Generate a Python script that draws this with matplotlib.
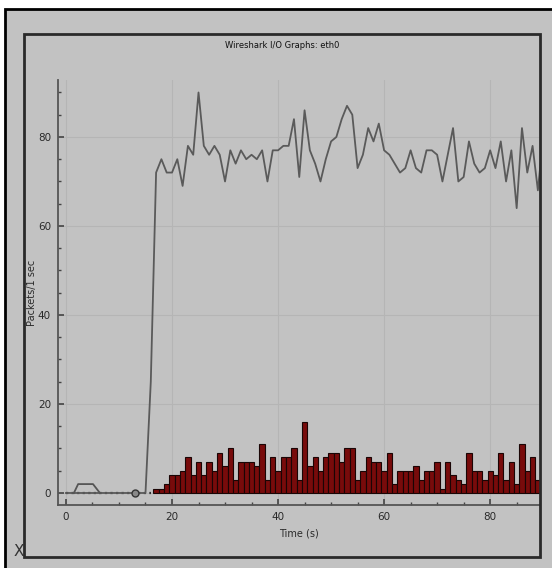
import numpy as np
import matplotlib.pyplot as plt
from matplotlib.patches import Rectangle

# packets per second (line), t = 0..90
line_t = list(range(0, 91))
line_v = [0] * 16 + [25, 72, 75, 72, 72, 75, 69, 78, 76, 90,
                     78, 76, 78, 76, 70, 77, 74, 77, 75, 76,
                     75, 77, 70, 77, 77, 78, 78, 84, 71, 86,
                     77, 74, 70, 75, 79, 80, 84, 87, 85, 73,
                     76, 82, 79, 83, 77, 76, 74, 72, 73, 77,
                     73, 72, 77, 77, 76, 70, 76, 82, 70, 71,
                     79, 74, 72, 73, 77, 73, 79, 70, 77, 64,
                     82, 72, 78, 68, 80]

# second graph (bars), t = 17..89
bar_t = list(range(17, 90))
bar_v = [1, 1, 2, 4, 4, 5, 8, 4, 7, 4, 7, 5, 9, 6, 10, 3, 7, 7, 7, 6,
         11, 3, 8, 5, 8, 8, 10, 3, 16, 6, 8, 5, 8, 9, 9, 7, 10, 10, 3, 5,
         8, 7, 7, 5, 9, 2, 5, 5, 5, 6, 3, 5, 5, 7, 1, 7, 4, 3, 2, 9,
         5, 5, 3, 5, 4, 9, 3, 7, 2, 11, 5, 8, 3]

# small bump graph near the start
bump_t = [1.5, 2.3, 5.1, 6.4]
bump_v = [0, 2, 2, 0]

# zero-level dotted graph and marker
dot_t = [0, 16]
dot_v = [0, 0]
mark_t = [13]
mark_v = [0]

W, H = 552, 568
bg = '#c2c2c2'
txt = '#2a2a2a'

fig = plt.figure(figsize=(W / 100, H / 100), dpi=100)
fig.patch.set_facecolor('white')

def px(x, y):
    return x / W, 1 - y / H

# outer grey box of the screenshot
fig.patches.append(Rectangle(px(5, 600), 600 / W, 591 / H, transform=fig.transFigure,
                             facecolor=bg, edgecolor='black', lw=2, zorder=-2))
# inner frame
fig.patches.append(Rectangle(px(24, 557), (540 - 24) / W, (557 - 34) / H,
                             transform=fig.transFigure, facecolor='none',
                             edgecolor='#2a2a2a', lw=2, zorder=5))

l, b = px(58, 505)
r, t = px(540, 80)
ax = fig.add_axes([l, b, r - l, t - b])
ax.set_zorder(1)
ax.set_facecolor(bg)

ax.bar(bar_t, bar_v, width=1.0, color='#780b0b', edgecolor='#1a0505', lw=0.8, zorder=3)
ax.plot(dot_t, dot_v, color='#333333', lw=1.6, ls=(0, (1, 1.5)), zorder=4)
ax.plot(line_t, line_v, color='#5a5a5a', lw=1.3, zorder=5)
ax.plot(bump_t, bump_v, color='#555555', lw=1.3, zorder=5)
ax.plot(mark_t, mark_v, 'o', ms=5, mfc='#888888', mec='#333333', mew=1, zorder=6)

ax.set_xlim(-1.5, 89.4)
ax.set_ylim(-2.7, 92.8)
ax.set_xticks([0, 20, 40, 60, 80])
ax.set_yticks([0, 20, 40, 60, 80])
ax.set_xticks(np.arange(0, 90, 5), minor=True)
ax.set_yticks(np.arange(0, 91, 5), minor=True)
ax.grid(True, which='major', color='#b5b5b5', lw=0.8)
ax.set_axisbelow(True)

for s in ['top', 'right']:
    ax.spines[s].set_visible(False)
for s in ['left', 'bottom']:
    ax.spines[s].set_color('#555555')
    ax.spines[s].set_linewidth(1.3)

ax.tick_params(which='major', direction='in', length=4, width=1.2, color='#444444',
               labelsize=7.5, labelcolor=txt, pad=5)
ax.tick_params(which='minor', direction='in', length=2, width=1, color='#444444')

ax.set_xlabel('Time (s)', fontsize=7, color=txt, labelpad=5)
ax.set_ylabel('Packets/1 sec', fontsize=7, color=txt)
ax.yaxis.set_label_coords(-0.044, 0.5)

fig.text(*px(282, 45), 'Wireshark I/O Graphs: eth0', fontsize=6, color='#111111',
         ha='center', va='center')
fig.text(*px(19, 551), 'X', fontsize=11, color='#333333', ha='center', va='center')

fig.savefig('out.png', dpi=100, facecolor=fig.get_facecolor())
